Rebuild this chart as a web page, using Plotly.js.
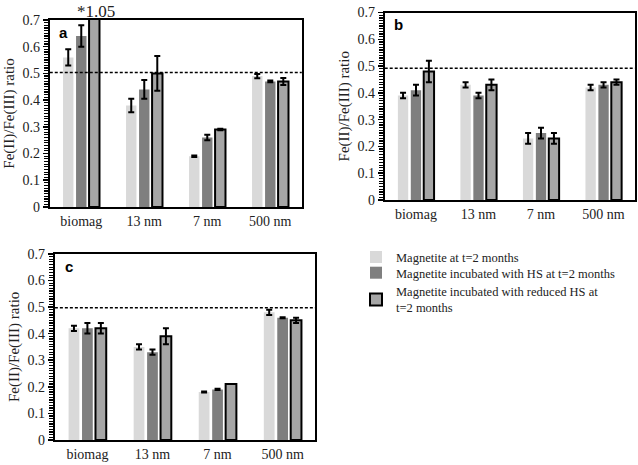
<!DOCTYPE html>
<html>
<head>
<meta charset="utf-8">
<script src="https://cdn.plot.ly/plotly-3.0.1.min.js"></script>
<style>
  body { margin: 0; background: #fff; }
  #plot { width: 638px; height: 465px; }
</style>
</head>
<body>
<div id="plot"></div>
<script>
// categories
var sizes = ['biomag', '13 nm', '7 nm', '500 nm'];

var seriesNames = [
    'Magnetite at t=2 months',
    'Magnetite incubated with HS at t=2 months',
    'Magnetite incubated with reduced HS at<br>t=2 months'
];

// panel a
var aPlain = [0.56, 0.38, 0.19, 0.49];
var aPlainErr = [0.03, 0.025, 0.003, 0.008];
var aHS = [0.64, 0.44, 0.26, 0.47];
var aHSErr = [0.04, 0.035, 0.01, 0.003];
var aRedHS = [1.05, 0.50, 0.29, 0.47];
var aRedHSErr = [0, 0.065, 0.003, 0.013];

// panel b
var bPlain = [0.39, 0.43, 0.23, 0.42];
var bPlainErr = [0.01, 0.01, 0.02, 0.01];
var bHS = [0.41, 0.39, 0.25, 0.43];
var bHSErr = [0.02, 0.01, 0.02, 0.01];
var bRedHS = [0.48, 0.43, 0.23, 0.44];
var bRedHSErr = [0.04, 0.02, 0.02, 0.01];

// panel c
var cPlain = [0.42, 0.35, 0.18, 0.48];
var cPlainErr = [0.01, 0.01, 0.002, 0.01];
var cHS = [0.42, 0.33, 0.19, 0.46];
var cHSErr = [0.02, 0.01, 0.002, 0.002];
var cRedHS = [0.42, 0.39, 0.21, 0.45];
var cRedHSErr = [0.02, 0.03, 0, 0.01];

// stoichiometric reference line per panel
var refLine = { a: 0.503, b: 0.492, c: 0.497 };

var serif = "'Liberation Serif', 'Times New Roman', serif";
var colLight = '#d9d9d9', colDark = '#7f7f7f', colMid = '#a6a6a6';
var legendIds = ['legend', 'legend2', 'legend3'];

function barTrace(y, err, idx, xa, ya, legend) {
    var colors = [colLight, colDark, colMid];
    return {
        type: 'bar', x: sizes, y: y, xaxis: xa, yaxis: ya,
        name: seriesNames[idx], showlegend: legend, legend: legendIds[idx],
        marker: {
            color: colors[idx],
            line: { color: '#000', width: idx == 2 ? 2 : 0 }
        },
        error_y: { type: 'data', array: err, visible: true, color: '#000', thickness: 2, width: 3 },
        hoverinfo: 'y'
    };
}

var data = [
    barTrace(aPlain, aPlainErr, 0, 'x', 'y', true),
    barTrace(aHS, aHSErr, 1, 'x', 'y', true),
    barTrace(aRedHS, aRedHSErr, 2, 'x', 'y', true),
    barTrace(bPlain, bPlainErr, 0, 'x2', 'y2', false),
    barTrace(bHS, bHSErr, 1, 'x2', 'y2', false),
    barTrace(bRedHS, bRedHSErr, 2, 'x2', 'y2', false),
    barTrace(cPlain, cPlainErr, 0, 'x3', 'y3', false),
    barTrace(cHS, cHSErr, 1, 'x3', 'y3', false),
    barTrace(cRedHS, cRedHSErr, 2, 'x3', 'y3', false)
];

function xAxis(dom, anchor) {
    return {
        domain: dom, anchor: anchor,
        showline: true, linecolor: '#000', linewidth: 2, mirror: true,
        ticks: '', showgrid: false,
        tickfont: { family: serif, size: 14, color: '#222' }
    };
}
function yAxis(dom, anchor) {
    return {
        domain: dom, anchor: anchor, range: [0, 0.7], autorange: false,
        dtick: 0.1, showgrid: false, zeroline: false,
        showline: true, linecolor: '#000', linewidth: 2, mirror: true,
        ticks: 'outside', ticklen: 5, tickcolor: '#000', tickwidth: 1.5,
        minor: { dtick: 0.01, ticks: 'outside', ticklen: 4, tickcolor: '#000', tickwidth: 1.2 },
        tickfont: { family: serif, size: 14, color: '#222' },
        title: { text: 'Fe(II)/Fe(III) ratio', font: { family: serif, size: 15, color: '#222' }, standoff: 4 }
    };
}

function dashLine(xref, yref, y) {
    return {
        type: 'line', xref: xref + ' domain', yref: yref,
        x0: 0, x1: 1, y0: y, y1: y,
        line: { color: '#000', width: 1.5, dash: '3px,2px' }
    };
}

function panelLabel(txt, xref, yref) {
    return {
        text: '<b>' + txt + '</b>', xref: xref + ' domain', yref: yref + ' domain',
        x: 0.03, y: 0.99, xanchor: 'left', yanchor: 'top', showarrow: false,
        font: { family: "'Liberation Sans', Arial, sans-serif", size: 15, color: '#000' }
    };
}

function legendBox(yTop) {
    return {
        x: 0.558, y: yTop, xanchor: 'left', yanchor: 'top',
        bgcolor: 'rgba(0,0,0,0)', itemwidth: 30,
        font: { family: serif, size: 12.5, color: '#222' }
    };
}

var layout = {
    width: 638, height: 465,
    margin: { l: 0, r: 0, t: 0, b: 0 },
    paper_bgcolor: '#fff', plot_bgcolor: '#fff',
    font: { family: serif, color: '#222' },
    barmode: 'group', bargap: 0.38, bargroupgap: 0.2,
    xaxis: xAxis([0.078, 0.473], 'y'),
    yaxis: yAxis([0.555, 0.957], 'x'),
    xaxis2: xAxis([0.603, 0.995], 'y2'),
    yaxis2: yAxis([0.570, 0.973], 'x2'),
    xaxis3: xAxis([0.086, 0.494], 'y3'),
    yaxis3: yAxis([0.054, 0.454], 'x3'),
    shapes: [
        dashLine('x', 'y', refLine.a),
        dashLine('x2', 'y2', refLine.b),
        dashLine('x3', 'y3', refLine.c)
    ],
    annotations: [
        panelLabel('a', 'x', 'y'),
        panelLabel('b', 'x2', 'y2'),
        panelLabel('c', 'x3', 'y3'),
        {
            text: '*' + aRedHS[0].toFixed(2), x: sizes[0], xref: 'x', y: 1, yref: 'y domain',
            xshift: 15, yanchor: 'bottom', yshift: -3, showarrow: false,
            font: { family: serif, size: 17, color: '#222' }
        }
    ],
    showlegend: true,
    legend: legendBox(0.479),
    legend2: legendBox(0.445),
    legend3: legendBox(0.405)
};

Plotly.newPlot('plot', data, layout, { displayModeBar: false, staticPlot: true });
</script>
</body>
</html>
